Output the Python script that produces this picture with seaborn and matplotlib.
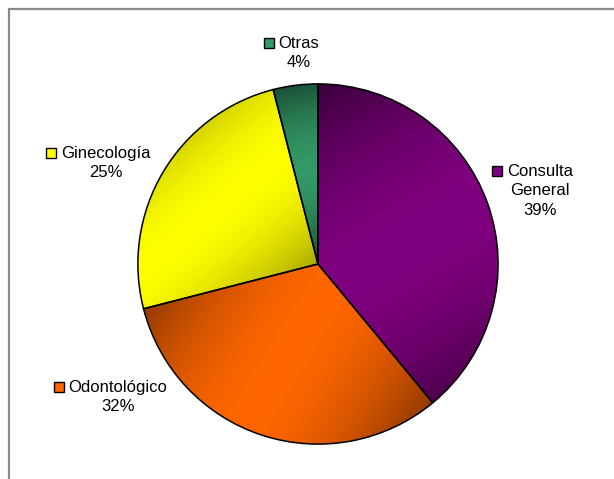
import numpy as np
import matplotlib
matplotlib.use("Agg")
import matplotlib.pyplot as plt
import matplotlib.colors as mcolors
from matplotlib.patches import Rectangle
from matplotlib.lines import Line2D
import seaborn as sns

# ---- data ----
categories = ["Consulta General", "Odontológico", "Ginecología", "Otras"]
label_names = ["Consulta\nGeneral", "Odontológico", "Ginecología", "Otras"]
values = [39, 32, 25, 4]
colors = ["#800080", "#FF6600", "#FFFF00", "#339966"]

sns.set_theme(style="white")
plt.rcParams["font.family"] = ["Liberation Sans", "DejaVu Sans"]

W, H = 614, 479
fig = plt.figure(figsize=(W / 100, H / 100), dpi=100)
fig.patch.set_facecolor("white")

cx, cy, R = 318, 264, 181
ax = fig.add_axes([(cx - R) / W, (H - cy - R) / H, 2 * R / W, 2 * R / H])

wedges, _ = ax.pie(values, startangle=90, counterclock=False, radius=1,
                   colors=colors,
                   wedgeprops=dict(edgecolor="black", linewidth=1.1))

# gradient fill, Excel-like "diagonal from center"
for w, c in zip(wedges, colors):
    th = np.radians(np.linspace(w.theta1, w.theta2, 300))
    xs = np.concatenate([[0], np.cos(th)])
    ys = np.concatenate([[0], np.sin(th)])
    x0, x1, y0, y1 = xs.min(), xs.max(), ys.min(), ys.max()
    n = 400
    gx, gy = np.meshgrid(np.linspace(x0, x1, n), np.linspace(y1, y0, n))
    dx, dy = x1 - x0, y0 - y1
    t = ((gx - x0) * dx + (gy - y1) * dy) / (dx * dx + dy * dy)
    s = np.clip(np.abs(2 * t - 1), 0, 1) ** 1.8
    base = np.array(mcolors.to_rgb(c))
    img = base[None, None, :] * (1 - 0.55 * s[..., None])
    im = ax.imshow(img, extent=(x0, x1, y0, y1), origin="upper",
                   interpolation="bilinear", zorder=1)
    im.set_clip_path(w)
    w.set_facecolor("none")
    w.set_zorder(2)

ax.set_xlim(-1.005, 1.005)
ax.set_ylim(-1.005, 1.005)
ax.set_aspect("equal")
ax.axis("off")

# ---- labels (layout positions in pixels: block centres) ----
label_pos = [(540, 191), (118, 397), (106, 163), (299, 53)]
texts = []
for name, v, (px, py) in zip(label_names, values, label_pos):
    t = fig.text(px / W, 1 - py / H, f"{name}\n{v}%", ha="center", va="center",
                 multialignment="center", fontsize=12, color="black",
                 linespacing=1.38)
    texts.append(t)

fig.canvas.draw()
renderer = fig.canvas.get_renderer()
sq = 10
for t, c in zip(texts, colors):
    bb = t.get_window_extent(renderer)
    x_left = bb.x0 - 5 - sq
    y_top = bb.y1 - 2
    fig.add_artist(Rectangle((x_left / W, (y_top - sq) / H), sq / W, sq / H,
                             transform=fig.transFigure, facecolor=c,
                             edgecolor="black", linewidth=1.0))

# ---- chart area border (top and left visible) ----
fig.add_artist(Line2D([9 / W, 9 / W], [0, 1 - 9 / H], transform=fig.transFigure,
                      color="#8a8a8a", linewidth=1.6))
fig.add_artist(Line2D([9 / W, 1], [1 - 9 / H, 1 - 9 / H], transform=fig.transFigure,
                      color="#8a8a8a", linewidth=1.6))

fig.savefig("out.png", dpi=100, facecolor="white")
